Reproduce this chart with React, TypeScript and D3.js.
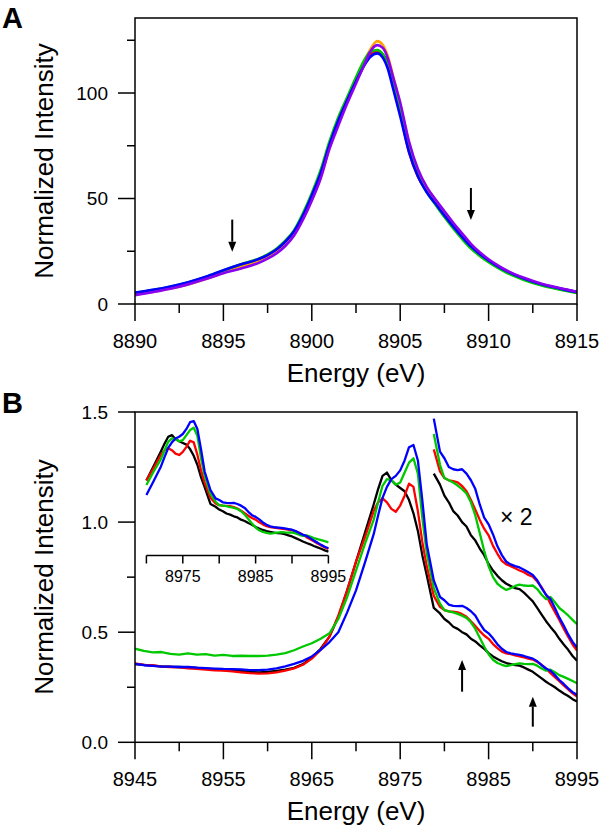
import React from 'react';
import * as d3 from 'd3';

// ---------- Panel A data ----------
const energyA = [8890, 8891, 8892, 8893, 8894, 8895, 8896, 8897, 8897.5, 8898, 8898.5, 8899, 8899.5, 8900, 8900.5, 8901, 8901.5, 8902, 8902.5, 8903, 8903.3, 8903.7, 8904, 8904.3, 8904.6, 8905, 8905.5, 8906, 8906.5, 8907, 8907.5, 8908, 8908.5, 8909, 8909.5, 8910, 8910.5, 8911, 8912, 8913, 8914, 8915];
const blackA = [5.0, 6.3, 7.8, 9.8, 12.3, 15.5, 18.3, 20.8, 22.5, 25.0, 28.5, 33.5, 41.0, 50.0, 60.5, 75.0, 87.0, 96.5, 106.0, 114.5, 118.0, 120.0, 118.5, 114.0, 105.0, 92.0, 74.0, 62.0, 54.5, 48.5, 42.5, 37.0, 31.5, 27.0, 23.5, 20.5, 17.8, 15.5, 12.0, 9.3, 7.3, 5.6];
const redA = [4.8, 6.1, 7.6, 9.6, 12.1, 15.2, 18.1, 20.8, 22.8, 25.5, 29.0, 33.8, 41.5, 50.5, 61.0, 75.5, 87.5, 97.0, 106.5, 114.5, 117.8, 119.6, 117.8, 113.0, 104.0, 90.5, 72.0, 60.5, 53.5, 47.8, 42.0, 36.6, 31.5, 27.0, 23.5, 20.5, 17.7, 15.3, 11.8, 9.2, 7.2, 5.5];
const orangeA = [4.4, 5.8, 7.3, 9.2, 11.8, 14.8, 17.6, 20.2, 22.0, 24.5, 28.0, 33.0, 40.5, 49.5, 60.0, 74.0, 86.5, 96.0, 106.0, 115.5, 120.5, 124.6, 123.0, 117.5, 108.0, 94.5, 75.5, 63.0, 55.0, 49.0, 43.0, 37.5, 32.2, 27.5, 23.8, 20.7, 18.0, 15.6, 12.0, 9.3, 7.2, 5.4];
const greenA = [5.3, 6.6, 8.2, 10.2, 12.8, 15.9, 18.8, 21.5, 23.5, 26.2, 30.0, 35.0, 43.0, 52.5, 63.5, 77.0, 88.5, 98.0, 107.5, 116.0, 119.5, 120.4, 118.5, 113.0, 104.0, 91.0, 73.0, 61.0, 53.0, 47.0, 41.2, 35.8, 30.8, 26.3, 22.8, 19.8, 17.2, 14.9, 11.4, 8.8, 6.9, 5.2];
const blueA = [5.4, 6.7, 8.3, 10.3, 12.9, 16.0, 18.8, 21.3, 23.2, 25.8, 29.5, 34.5, 42.0, 51.5, 62.0, 75.5, 87.0, 96.5, 105.5, 113.5, 117.0, 118.8, 117.0, 111.5, 102.0, 89.0, 72.0, 60.5, 53.0, 47.5, 42.0, 36.8, 31.8, 27.3, 23.7, 20.7, 18.0, 15.7, 12.1, 9.4, 7.4, 5.6];
const purpleA = [4.2, 5.6, 7.2, 9.3, 11.8, 14.6, 16.8, 19.5, 21.5, 24.0, 27.5, 32.5, 40.0, 49.0, 59.5, 73.5, 84.5, 95.0, 104.5, 114.0, 119.5, 122.7, 121.5, 116.5, 107.5, 95.5, 77.0, 64.0, 55.5, 49.5, 44.0, 38.5, 33.5, 28.5, 24.5, 21.2, 18.4, 16.0, 12.4, 9.6, 7.6, 5.8];
const seriesA = [
  { name: 'black', color: '#000000', values: blackA },
  { name: 'red', color: '#ff0000', values: redA },
  { name: 'orange', color: '#ffa500', values: orangeA },
  { name: 'green', color: '#00c800', values: greenA },
  { name: 'blue', color: '#0000ff', values: blueA },
  { name: 'purple', color: '#8a00f0', values: purpleA },
];
const xTicksA = [8890, 8895, 8900, 8905, 8910, 8915];
const xMinorA = [8892.5, 8897.5, 8902.5, 8907.5, 8912.5];
const yTicksA = [0, 50, 100];
const yMinorA = [25, 75, 125];
const arrowsA = [
  { e: 8895.5, from: 40, to: 24.8 },
  { e: 8909.0, from: 55, to: 39.8 },
];

// ---------- Panel B data ----------
const energyB = [8945, 8946, 8947, 8948, 8949, 8950, 8951, 8952, 8953, 8954, 8955, 8956, 8957, 8958, 8959, 8960, 8961, 8962, 8963, 8964, 8965, 8966, 8967, 8968, 8969, 8970, 8971, 8972, 8972.5, 8973, 8973.5, 8974, 8974.5, 8975, 8975.5, 8976, 8976.5, 8977, 8977.5, 8978, 8978.8, 8979.5, 8980, 8980.5, 8981, 8981.5, 8982, 8982.5, 8983, 8983.5, 8984, 8984.5, 8985, 8985.5, 8986, 8986.5, 8987, 8987.5, 8988, 8988.5, 8989, 8989.5, 8990, 8990.5, 8991, 8991.5, 8992, 8992.5, 8993, 8993.5, 8994, 8994.5, 8995];
const blackB = [0.355, 0.352, 0.348, 0.345, 0.343, 0.342, 0.340, 0.338, 0.334, 0.331, 0.328, 0.326, 0.324, 0.320, 0.318, 0.320, 0.324, 0.330, 0.338, 0.355, 0.385, 0.425, 0.480, 0.570, 0.690, 0.820, 0.950, 1.08, 1.15, 1.21, 1.225, 1.19, 1.17, 1.155, 1.14, 1.10, 1.04, 0.96, 0.85, 0.76, 0.61, 0.585, 0.56, 0.545, 0.525, 0.515, 0.50, 0.49, 0.47, 0.458, 0.44, 0.425, 0.405, 0.39, 0.378, 0.368, 0.36, 0.355, 0.35, 0.348, 0.34, 0.33, 0.32, 0.305, 0.29, 0.275, 0.262, 0.25, 0.235, 0.222, 0.21, 0.196, 0.185];
const redB = [0.358, 0.352, 0.350, 0.344, 0.342, 0.340, 0.336, 0.334, 0.330, 0.327, 0.326, 0.322, 0.318, 0.314, 0.312, 0.313, 0.318, 0.326, 0.336, 0.352, 0.380, 0.420, 0.480, 0.575, 0.690, 0.820, 0.930, 1.05, 1.09, 1.108, 1.09, 1.06, 1.047, 1.075, 1.12, 1.175, 1.16, 1.05, 0.91, 0.80, 0.665, 0.615, 0.600, 0.595, 0.593, 0.59, 0.582, 0.57, 0.55, 0.528, 0.505, 0.485, 0.47, 0.446, 0.428, 0.412, 0.404, 0.40, 0.395, 0.39, 0.386, 0.38, 0.376, 0.365, 0.352, 0.335, 0.314, 0.296, 0.278, 0.258, 0.24, 0.222, 0.208];
const greenB = [0.425, 0.415, 0.408, 0.41, 0.402, 0.398, 0.404, 0.398, 0.400, 0.394, 0.397, 0.392, 0.393, 0.392, 0.392, 0.394, 0.398, 0.405, 0.418, 0.435, 0.450, 0.470, 0.495, 0.56, 0.66, 0.78, 0.90, 1.01, 1.09, 1.165, 1.195, 1.19, 1.17, 1.18, 1.225, 1.27, 1.29, 1.22, 1.02, 0.86, 0.70, 0.63, 0.60, 0.595, 0.59, 0.583, 0.575, 0.565, 0.545, 0.515, 0.475, 0.435, 0.40, 0.375, 0.36, 0.352, 0.346, 0.35, 0.355, 0.358, 0.356, 0.355, 0.356, 0.348, 0.335, 0.325, 0.33, 0.318, 0.305, 0.297, 0.288, 0.278, 0.268];
const blueB = [0.356, 0.350, 0.347, 0.344, 0.344, 0.342, 0.342, 0.339, 0.337, 0.335, 0.333, 0.332, 0.331, 0.328, 0.328, 0.330, 0.336, 0.345, 0.356, 0.370, 0.390, 0.420, 0.455, 0.500, 0.590, 0.690, 0.815, 0.945, 1.03, 1.11, 1.16, 1.195, 1.21, 1.235, 1.28, 1.34, 1.35, 1.28, 1.10, 0.90, 0.735, 0.66, 0.645, 0.625, 0.620, 0.618, 0.62, 0.61, 0.595, 0.575, 0.54, 0.51, 0.495, 0.472, 0.445, 0.425, 0.41, 0.404, 0.40, 0.397, 0.392, 0.386, 0.38, 0.368, 0.35, 0.335, 0.325, 0.305, 0.283, 0.265, 0.245, 0.228, 0.215];
const seriesB = [
  { name: 'black', color: '#000000', values: blackB },
  { name: 'red', color: '#ff0000', values: redB },
  { name: 'green', color: '#00c800', values: greenB },
  { name: 'blue', color: '#0000ff', values: blueB },
];
const xTicksB = [8945, 8955, 8965, 8975, 8985, 8995];
const xMinorB = [8950, 8960, 8970, 8980, 8990];
const yTicksB = [0, 0.5, 1.0, 1.5];
const yMinorB = [0.25, 0.75, 1.25];
const insetTicks = [8970, 8975, 8980, 8985, 8990, 8995];
const insetLabels = [8975, 8985, 8995];
const scaleFactor = 2;
const scaledStart = 8978.8;
const insetStart = 8970;
const arrowsB = [
  { e: 8982.0, from: 0.23, to: 0.374 },
  { e: 8990.0, from: 0.071, to: 0.207 },
];

const FONT = "'Liberation Sans', Arial, Helvetica, sans-serif";

export default function App() {
  const xA = d3.scaleLinear().domain([8890, 8915]).range([135, 577]);
  const yA = d3.scaleLinear().domain([0, 135.55]).range([304, 18]);
  const xB = d3.scaleLinear().domain([8945, 8995]).range([135, 577]);
  const yB = d3.scaleLinear().domain([0, 1.5]).range([742.3, 412]);
  const xI = d3.scaleLinear().domain([8970, 8995]).range([146.4, 328.4]);
  const yI = d3.scaleLinear().domain([0, 1.5]).range([572.3, 404.3]);
  const insetAxisY = 555.5;

  const lineA = (vals: number[]) =>
    d3.line<number>().x((_, i) => xA(energyA[i])).y((d) => yA(d)).curve(d3.curveMonotoneX)(vals) || '';
  const lineB = (vals: number[]) =>
    d3.line<number>().x((_, i) => xB(energyB[i])).y((d) => yB(d))(vals) || '';
  const idxScaled = energyB.map((e, i) => i).filter((i) => energyB[i] >= scaledStart);
  const lineScaled = (vals: number[]) =>
    d3.line<number>().x((i) => xB(energyB[i])).y((i) => yB(vals[i] * scaleFactor))(idxScaled) || '';
  const idxInset = energyB.map((e, i) => i).filter((i) => energyB[i] >= insetStart);
  const lineInset = (vals: number[]) =>
    d3.line<number>().x((i) => xI(energyB[i])).y((i) => yI(vals[i]))(idxInset) || '';

  const axisStroke = 1.5;

  const arrow = (x: number, yFrom: number, yTo: number, key: string) => {
    const dir = yTo > yFrom ? 1 : -1;
    const headLen = 10;
    const headW = 4;
    return (
      <g key={key}>
        <line x1={x} x2={x} y1={yFrom} y2={yTo - dir * headLen} stroke="#000" strokeWidth={2} />
        <path d={`M${x - headW},${yTo - dir * headLen} L${x + headW},${yTo - dir * headLen} L${x},${yTo} Z`} fill="#000" />
      </g>
    );
  };

  return (
    <svg width={600} height={826} style={{ position: 'absolute', left: 0, top: 0, background: '#fff' }} fontFamily={FONT}>
      <defs>
        <clipPath id="clipA"><rect x={135} y={18} width={442} height={286} /></clipPath>
        <clipPath id="clipB"><rect x={135} y={412} width={442} height={330.3} /></clipPath>
      </defs>
      <rect x={0} y={0} width={600} height={826} fill="#fff" />

      {/* ---------- Panel A ---------- */}
      <text x={2} y={28} fontSize={29} fontWeight="bold">A</text>
      <g clipPath="url(#clipA)">
        {seriesA.map((s) => (
          <path key={s.name} d={lineA(s.values)} fill="none" stroke={s.color} strokeWidth={2.6} strokeLinejoin="round" />
        ))}
      </g>
      <rect x={135} y={18} width={442} height={286} fill="none" stroke="#000" strokeWidth={axisStroke} />
      {xTicksA.map((t) => (
        <g key={'xa' + t}>
          <line x1={xA(t)} x2={xA(t)} y1={304} y2={321} stroke="#000" strokeWidth={axisStroke} />
          <text x={xA(t)} y={348} fontSize={20} textAnchor="middle">{t}</text>
        </g>
      ))}
      {xMinorA.map((t) => (
        <line key={'xam' + t} x1={xA(t)} x2={xA(t)} y1={304} y2={313} stroke="#000" strokeWidth={axisStroke} />
      ))}
      {yTicksA.map((t) => (
        <g key={'ya' + t}>
          <line x1={118} x2={135} y1={yA(t)} y2={yA(t)} stroke="#000" strokeWidth={axisStroke} />
          <text x={108} y={yA(t) + 6.5} fontSize={19} textAnchor="end">{t}</text>
        </g>
      ))}
      {yMinorA.map((t) => (
        <line key={'yam' + t} x1={127} x2={135} y1={yA(t)} y2={yA(t)} stroke="#000" strokeWidth={axisStroke} />
      ))}
      {arrowsA.map((a, i) => arrow(xA(a.e), yA(a.from), yA(a.to), 'aa' + i))}
      <text x={356} y={382} fontSize={26} textAnchor="middle">Energy (eV)</text>
      <text transform={`translate(53,161) rotate(-90)`} fontSize={26} textAnchor="middle">Normalized Intensity</text>

      {/* ---------- Panel B ---------- */}
      <text x={2} y={413} fontSize={29} fontWeight="bold">B</text>
      <g clipPath="url(#clipB)">
        {seriesB.map((s) => (
          <path key={s.name} d={lineB(s.values)} fill="none" stroke={s.color} strokeWidth={2.3} strokeLinejoin="round" />
        ))}
        {seriesB.map((s) => (
          <path key={'x2' + s.name} d={lineScaled(s.values)} fill="none" stroke={s.color} strokeWidth={2.3} strokeLinejoin="round" />
        ))}
        {seriesB.map((s) => (
          <path key={'in' + s.name} d={lineInset(s.values)} fill="none" stroke={s.color} strokeWidth={2.3} strokeLinejoin="round" />
        ))}
      </g>
      <rect x={135} y={412} width={442} height={330.3} fill="none" stroke="#000" strokeWidth={axisStroke} />
      {xTicksB.map((t) => (
        <g key={'xb' + t}>
          <line x1={xB(t)} x2={xB(t)} y1={742.3} y2={759.3} stroke="#000" strokeWidth={axisStroke} />
          <text x={xB(t)} y={786} fontSize={20} textAnchor="middle">{t}</text>
        </g>
      ))}
      {xMinorB.map((t) => (
        <line key={'xbm' + t} x1={xB(t)} x2={xB(t)} y1={742.3} y2={751.3} stroke="#000" strokeWidth={axisStroke} />
      ))}
      {yTicksB.map((t) => (
        <g key={'yb' + t}>
          <line x1={118} x2={135} y1={yB(t)} y2={yB(t)} stroke="#000" strokeWidth={axisStroke} />
          <text x={108} y={yB(t) + 6.5} fontSize={19} textAnchor="end">{t.toFixed(1)}</text>
        </g>
      ))}
      {yMinorB.map((t) => (
        <line key={'ybm' + t} x1={127} x2={135} y1={yB(t)} y2={yB(t)} stroke="#000" strokeWidth={axisStroke} />
      ))}
      {/* inset axis */}
      <line x1={xI(8970)} x2={xI(8995)} y1={insetAxisY} y2={insetAxisY} stroke="#000" strokeWidth={axisStroke} />
      {insetTicks.map((t) => (
        <line key={'it' + t} x1={xI(t)} x2={xI(t)} y1={insetAxisY} y2={insetAxisY + 8} stroke="#000" strokeWidth={axisStroke} />
      ))}
      {insetLabels.map((t) => (
        <text key={'il' + t} x={xI(t)} y={582} fontSize={16} textAnchor="middle">{t}</text>
      ))}
      <text x={500} y={525} fontSize={23}>× 2</text>
      {arrowsB.map((a, i) => arrow(xB(a.e), yB(a.from), yB(a.to), 'ab' + i))}
      <text x={356} y={820} fontSize={26} textAnchor="middle">Energy (eV)</text>
      <text transform={`translate(53,577) rotate(-90)`} fontSize={26} textAnchor="middle">Normalized Intensity</text>
    </svg>
  );
}
